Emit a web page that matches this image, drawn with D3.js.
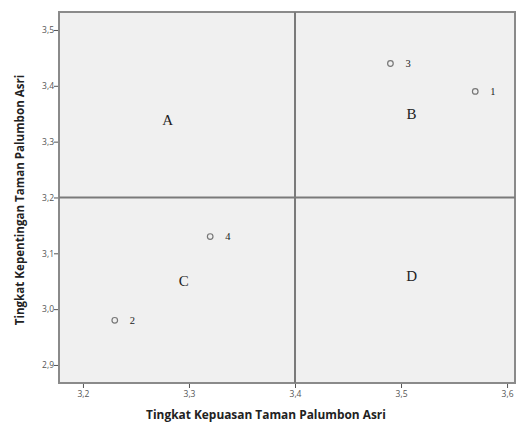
<!DOCTYPE html>
<html>
<head>
<meta charset="utf-8">
<script src="https://cdn.jsdelivr.net/npm/d3@7"></script>
<style>
  body { margin: 0; background: #fff; }
</style>
</head>
<body>
<div id="chart"></div>
<script>
// point values
const pointIds   = ["1", "2", "3", "4"];
const kepuasan   = [3.57, 3.23, 3.49, 3.32];   // x
const kepentingan = [3.39, 2.98, 3.44, 3.13];  // y

// quadrant letters, placed in data units
const quadNames = ["A", "B", "C", "D"];
const quadX     = [3.28, 3.51, 3.295, 3.51];
const quadY     = [3.34, 3.35, 3.05, 3.06];

const xTicks = [3.2, 3.3, 3.4, 3.5, 3.6];
const yTicks = [2.9, 3.0, 3.1, 3.2, 3.3, 3.4, 3.5];
const xMean = 3.4, yMean = 3.2;

const width = 517, height = 425;
const margin = { top: 12, right: 2, bottom: 42, left: 59 };

const x = d3.scaleLinear()
    .domain([3.1774, 3.6075])
    .range([margin.left, width - margin.right]);
const y = d3.scaleLinear()
    .domain([2.8677, 3.5322])
    .range([height - margin.bottom, margin.top]);

const fmt = d => d3.format(".1f")(d).replace(".", ",");

const svg = d3.select("#chart").append("svg")
    .attr("width", width)
    .attr("height", height)
    .style("font-family", "'Open Sans', sans-serif");

// plot background
svg.append("rect")
    .attr("x", margin.left).attr("y", margin.top)
    .attr("width", width - margin.left - margin.right)
    .attr("height", height - margin.top - margin.bottom)
    .attr("fill", "#f0f0f0");

// axes
const xAxis = svg.append("g")
    .attr("transform", `translate(0,${height - margin.bottom})`)
    .call(d3.axisBottom(x).tickValues(xTicks).tickFormat(fmt).tickSize(5).tickSizeOuter(0));
const yAxis = svg.append("g")
    .attr("transform", `translate(${margin.left},0)`)
    .call(d3.axisLeft(y).tickValues(yTicks).tickFormat(fmt).tickSize(5).tickSizeOuter(0));

[xAxis, yAxis].forEach(g => {
    g.select(".domain").remove();
    g.selectAll(".tick line").attr("stroke", "#555");
    g.selectAll(".tick text")
        .attr("fill", "#555")
        .style("font-size", "8.5px")
        .style("font-family", "'Open Sans', sans-serif");
});
yAxis.selectAll(".tick text").attr("x", -5).attr("dy", "0.32em");
xAxis.selectAll(".tick text").attr("y", 8);

// frame
svg.append("rect")
    .attr("x", margin.left).attr("y", margin.top)
    .attr("width", width - margin.left - margin.right)
    .attr("height", height - margin.top - margin.bottom)
    .attr("fill", "none")
    .attr("stroke", "#8a8a8a")
    .attr("stroke-width", 2);

// reference lines
svg.append("line")
    .attr("x1", x(xMean)).attr("x2", x(xMean))
    .attr("y1", margin.top).attr("y2", height - margin.bottom)
    .attr("stroke", "#7a7a7a").attr("stroke-width", 2);
svg.append("line")
    .attr("x1", margin.left).attr("x2", width - margin.right)
    .attr("y1", y(yMean)).attr("y2", y(yMean))
    .attr("stroke", "#7a7a7a").attr("stroke-width", 2);

// points
const pts = pointIds.map((id, i) => ({ id, x: kepuasan[i], y: kepentingan[i] }));
svg.append("g")
    .selectAll("circle")
    .data(pts)
    .join("circle")
        .attr("cx", d => x(d.x))
        .attr("cy", d => y(d.y))
        .attr("r", 2.8)
        .attr("fill", "none")
        .attr("stroke", "#777")
        .attr("stroke-width", 1.2);

svg.append("g")
    .selectAll("text")
    .data(pts)
    .join("text")
        .attr("x", d => x(d.x) + 15)
        .attr("y", d => y(d.y))
        .attr("dy", "0.32em")
        .attr("font-family", "'Liberation Serif', serif")
        .attr("font-size", 10.5)
        .attr("fill", "#222")
        .text(d => d.id);

// quadrant letters
svg.append("g")
    .selectAll("text")
    .data(quadNames)
    .join("text")
        .attr("x", (d, i) => x(quadX[i]))
        .attr("y", (d, i) => y(quadY[i]))
        .attr("dy", "0.35em")
        .attr("text-anchor", "middle")
        .attr("font-family", "'Liberation Serif', serif")
        .attr("font-size", 15)
        .attr("fill", "#222")
        .text(d => d);

// axis titles
svg.append("text")
    .attr("x", 266).attr("y", 419)
    .attr("text-anchor", "middle")
    .attr("font-weight", "bold")
    .attr("font-size", 11.9)
    .attr("fill", "#222")
    .text("Tingkat Kepuasan Taman Palumbon Asri");

svg.append("text")
    .attr("transform", "translate(24,200) rotate(-90)")
    .attr("text-anchor", "middle")
    .attr("font-weight", "bold")
    .attr("font-size", 11.6)
    .attr("fill", "#222")
    .text("Tingkat Kepentingan Taman Palumbon Asri");
</script>
</body>
</html>
